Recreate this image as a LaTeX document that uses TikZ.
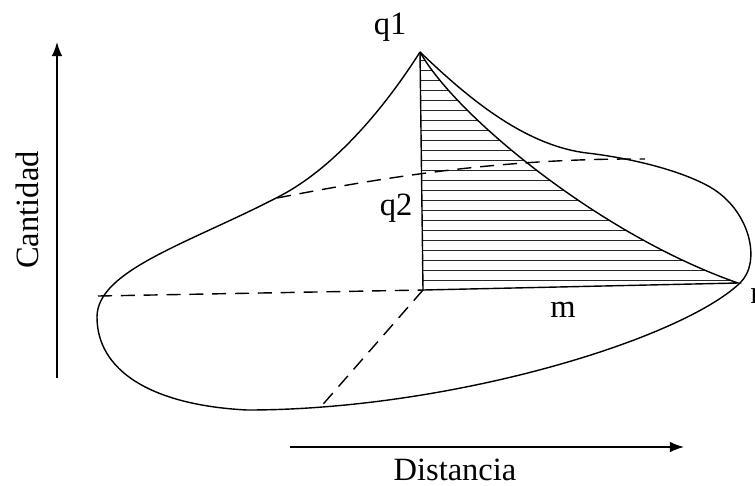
\documentclass[tikz,border=0pt]{standalone}
\usepackage{fontspec}
\setmainfont{Liberation Serif}
\usepackage{tikz}
\usetikzlibrary{calc,arrows.meta}

\begin{document}
\begin{tikzpicture}[x=0.02cm,y=-0.02cm,
	every node/.style={font=\fontsize{18.5}{20}\selectfont},
	outline/.style={line width=0.8pt},
	hidden/.style={line width=0.8pt, dash pattern=on 8pt off 5pt},
	hatch/.style={line width=0.55pt, black!85},
	axis/.style={line width=0.8pt, -{Latex[length=8pt,width=6pt]}}]

	\useasboundingbox (0,0) rectangle (755,485);

	% corners of the hatched triangle
	\coordinate (top) at (420,52);
	\coordinate (foot) at (423,290);
	\coordinate (tip) at (738,283);

	% hatching
	\begin{scope}
		\clip (top) -- (foot) -- (tip) .. controls (600,235) and (455,115) .. (top) -- cycle;
		\foreach \y in {60,70,...,290}
			\draw[hatch] (400,\y) -- (760,\y);
	\end{scope}
	\draw[outline] (top) -- (foot) -- (tip) .. controls (600,235) and (455,115) .. (top);

	% outer body
	\draw[outline] (top) .. controls (380,115) and (330,170) .. (280,196)
		.. controls (190,243) and (97,270) .. (97,317)
		.. controls (97,370) and (150,405) .. (247,410)
		.. controls (450,410) and (680,340) .. (740,283)
		.. controls (762,262) and (750,210) .. (710,187)
		.. controls (680,170) and (630,158) .. (587,153)
		.. controls (520,145) and (460,90) .. (top);

	% dashed lines
	\coordinate (lft) at (98,296);
	\coordinate (low) at (318,410);
	\coordinate (q2l) at (277,198);
	\coordinate (q2r) at (645,159);
	\draw[hidden] (lft) -- (foot);
	\draw[hidden] (foot) -- (low);
	\draw[hidden] (q2l) .. controls (380,178) and (500,158) .. (q2r);

	% axes
	\coordinate (ya) at (57,378);
	\coordinate (yb) at (57,42);
	\coordinate (xa) at (290,447);
	\coordinate (xb) at (684,447);
	\draw[axis] (ya) -- (yb);
	\draw[axis] (xa) -- (xb);

	\node (cant) [rotate=90] at (27,210) {Cantidad};
	\node (dist) at (455,470) {Distancia};
	\node (q1) at (390,27) {q1};
	\node (q2) at (396,208) {q2};
	\node (m) at (563,310) {m};
	\node (n) [anchor=west, inner sep=0pt] at (750,296) {n};

\end{tikzpicture}
\end{document}
